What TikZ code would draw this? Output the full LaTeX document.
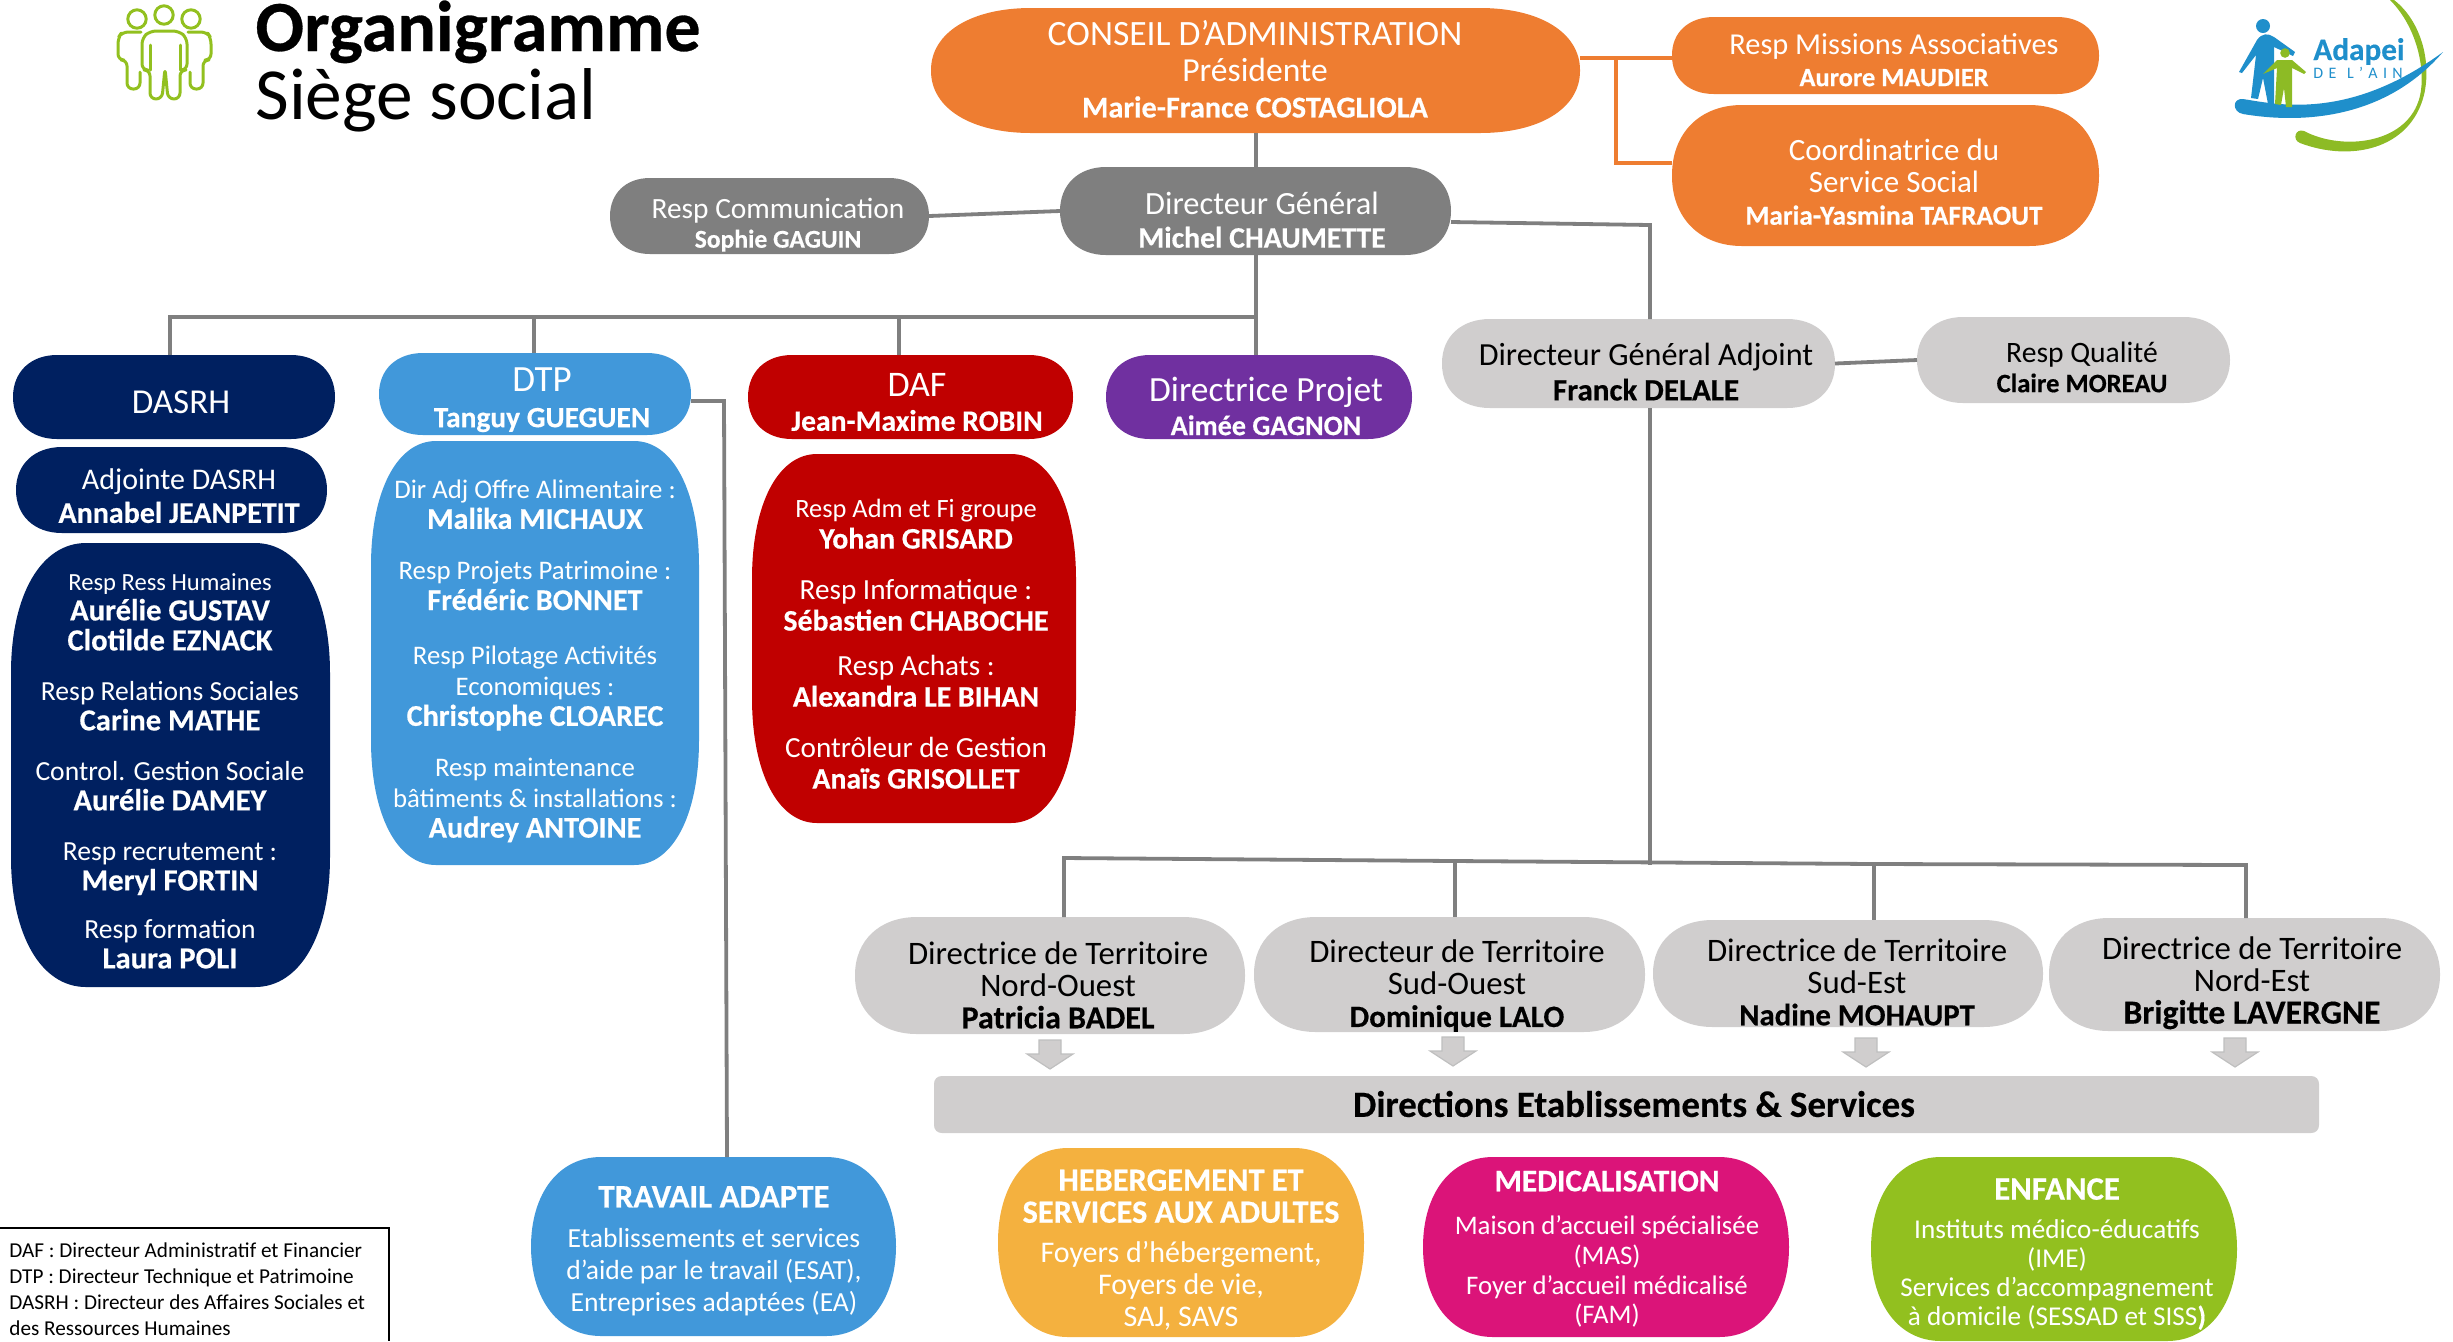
\documentclass[tikz,border=0pt]{standalone}
\usepackage{fontspec}
\setmainfont{Carlito}[BoldFeatures={FakeBold=0.4}]
\definecolor{corange}{HTML}{EE7D31}
\definecolor{cnavy}{HTML}{002060}
\definecolor{cblue}{HTML}{4198DA}
\definecolor{cred}{HTML}{C00000}
\definecolor{cpurple}{HTML}{7030A0}
\definecolor{cgray}{HTML}{7F7F7F}
\definecolor{clight}{HTML}{D0CECE}
\definecolor{cyellow}{HTML}{F4B13F}
\definecolor{cmag}{HTML}{DB1479}
\definecolor{cgreen}{HTML}{92C01F}
\definecolor{clogob}{HTML}{1F8FCB}
\definecolor{clogog}{HTML}{8DBB25}
\tikzset{
  conn/.style={draw=cgray,line width=1.9pt},
  connor/.style={draw=corange,line width=1.7pt},
  anchorbox/.style={rectangle,inner sep=0pt,outer sep=0pt},
  blockarrow/.style={fill=clight,draw=black!25,line width=.6pt},
  icon/.style={draw=cgreen,line width=1.5pt,line join=round,line cap=round},
}
\newcommand{\rbox}[8]{%
  \path[fill=#8] ({#2+#6},#3) -- ({#4-#6},#3)
    .. controls ({#4-0.4*#6},#3) and (#4,{#3+0.4*#7}) .. (#4,{#3+#7})
    -- (#4,{#5-#7})
    .. controls (#4,{#5-0.4*#7}) and ({#4-0.4*#6},#5) .. ({#4-#6},#5)
    -- ({#2+#6},#5)
    .. controls ({#2+0.4*#6},#5) and (#2,{#5-0.4*#7}) .. (#2,{#5-#7})
    -- (#2,{#3+#7})
    .. controls (#2,{#3+0.4*#7}) and ({#2+0.4*#6},#3) .. ({#2+#6},#3) -- cycle;
  \node[anchorbox,minimum width={(#4-#2)*0.5pt},minimum height={(#5-#3)*0.5pt}] (#1) at ({(#2+#4)/2},{(#3+#5)/2}) {};
}
\newcommand{\tx}[7]{%
  \node[inner sep=0pt,align=center,text=#6,font={\fontsize{#4}{#5}\selectfont}] (#1) at (#2,#3) {#7};
}
\newcommand{\nz}[2]{{\fontsize{#1}{\baselineskip}\selectfont\bfseries #2}}
\newcommand{\lz}[2]{{\fontsize{#1}{\baselineskip}\selectfont #2}}
\begin{document}
\begin{tikzpicture}[x=0.5pt,y=-0.5pt]
\useasboundingbox (0,0) rectangle (2453,1341);

% icon
\foreach \cx/\cy in {164/15,137/19,191/19}{\draw[icon] (\cx,\cy) circle (4.6pt);}
\draw[icon,rounded corners=3pt] (150,31) -- (179,31) -- (187,38) -- (187,70) -- (180,70) -- (180,99) -- (168,99) -- (165,68) -- (162,99) -- (150,99) -- (150,70) -- (142,70) -- (142,38) -- cycle;
\draw[icon] (150,45) -- (150,70) (180,45) -- (180,70);
\draw[icon,rounded corners=3pt] (141,32) -- (122,32) -- (118,38) -- (118,60) -- (127,60) -- (127,89) -- (140,89) -- (140,72);
\draw[icon,rounded corners=3pt] (188,32) -- (207,32) -- (211,38) -- (211,60) -- (203,60) -- (203,89) -- (190,89) -- (190,72);

% titles
\node[anchor=base west,inner sep=0pt,font={\fontsize{36}{36}\selectfont\bfseries}] (titre) at (255,51) {Organigramme};
\node[anchor=base west,inner sep=0pt,font={\fontsize{36.7}{36}\selectfont}] (soustitre) at (255,119) {Siège social};

% logo
\fill[clogog] (2390,0) .. controls (2420,30) and (2428,80) .. (2417,105) .. controls (2400,145) and (2340,150) .. (2304,131) .. controls (2295,128) and (2292,140) .. (2300,143) .. controls (2350,162) and (2410,150) .. (2424,95) .. controls (2432,60) and (2420,20) .. (2394,0) -- cycle;
\fill[clogob] (2243,99) .. controls (2280,105) and (2350,120) .. (2443,52) .. controls (2380,125) and (2290,122) .. (2243,114) .. controls (2232,112) and (2232,98) .. (2243,99) -- cycle;
\fill[clogob] (2263,26) circle (3.5pt);
\fill[clogob] (2239,72) -- (2257,40) .. controls (2262,33) and (2268,33) .. (2274,37) -- (2295,52) -- (2293,56) -- (2274,47) -- (2274,104) -- (2268,104) -- (2263,78) -- (2258,99) -- (2251,98) -- (2256,55) -- (2242,73) -- cycle;
\fill[clogog] (2285,53) circle (2.4pt);
\fill[clogog] (2263,74) -- (2277,60) -- (2292,60) -- (2306,72) -- (2304,74) -- (2292,68) -- (2292,107) -- (2286,107) -- (2284,88) -- (2281,105) -- (2275,104) -- (2277,68) -- cycle;
\node[anchor=base west,inner sep=0pt,text=clogob,font={\fontsize{15.6}{16}\selectfont\bfseries}] (adapei) at (2313,60) {Adapei};
\node[anchor=base west,inner sep=0pt,text=clogob,font={\fontsize{8}{8}\selectfont}] (delain) at (2313,78) {D\,\,E\,\,\,\,L\,\,'\,\,A\,\,I\,\,N};

% boxes
\rbox{cadmin}{931}{8}{1580}{133}{100}{62}{corange}
\rbox{missions}{1672}{17}{2099}{94}{42}{38}{corange}
\rbox{coord}{1672}{105}{2099}{246}{70}{70}{corange}
\rbox{dg}{1060}{167}{1451}{255}{46}{44}{cgray}
\rbox{comm}{610}{178}{929}{254}{40}{38}{cgray}
\rbox{dasrh}{13}{355}{335}{439}{44}{42}{cnavy}
\rbox{adj}{16}{447}{327}{533}{46}{43}{cnavy}
\rbox{rh}{11}{543}{330}{987}{75}{130}{cnavy}
\rbox{dtp}{379}{353}{691}{435}{44}{41}{cblue}
\rbox{dtpb}{371}{441}{699}{865}{65}{125}{cblue}
\rbox{daf}{748}{355}{1073}{439}{44}{42}{cred}
\rbox{dafb}{752}{454}{1076}{823}{65}{125}{cred}
\rbox{projet}{1106}{355}{1412}{439}{44}{42}{cpurple}
\rbox{dga}{1442}{319}{1835}{408}{48}{44}{clight}
\rbox{qual}{1917}{317}{2230}{403}{46}{43}{clight}
\rbox{no}{855}{917}{1245}{1034}{62}{58}{clight}
\rbox{so}{1254}{917}{1645}{1032}{62}{57}{clight}
\rbox{se}{1653}{920}{2043}{1027}{60}{53}{clight}
\rbox{ne}{2049}{918}{2440}{1031}{60}{56}{clight}
\rbox{bar}{934}{1076}{2319}{1133}{8}{8}{clight}
\rbox{travail}{531}{1157}{896}{1336}{70}{90}{cblue}
\rbox{heber}{998}{1148}{1364}{1337}{70}{94}{cyellow}
\rbox{medic}{1423}{1157}{1789}{1337}{70}{90}{cmag}
\rbox{enf}{1871}{1157}{2237}{1341}{70}{92}{cgreen}

% connectors
\coordinate (orj) at (1616,58);
\coordinate (orb) at (1616,163);
\draw[connor] (cadmin.east |- orj) -- (missions.west |- orj);
\draw[connor] (orj) -- (orb) -- (coord.west |- orb);
\coordinate (busR) at (1256,317);
\coordinate (busL) at (170,317);
\coordinate (busB) at (534,317);
\coordinate (busC) at (899,317);
\draw[conn] (busR |- cadmin.south) -- (busR |- dg.north);
\draw[conn] (busR |- dg.south) -- (busR) -- (busL) -- (busL |- dasrh.north);
\draw[conn] (busB) -- (busB |- dtp.north);
\draw[conn] (busC) -- (busC |- daf.north);
\draw[conn] (busR) -- (busR |- projet.north);
\draw[conn] (comm.east) -- (dg.west);
\coordinate (dgaj) at (1650,225);
\coordinate (dgae) at (1650,865);
\coordinate (dgbase) at (1440,222);
\draw[conn] (dg.east |- dgbase) -- (dgaj) -- (dgaj |- dga.north);
\draw[conn] (dgaj |- dga.south) -- (dgae);
\draw[conn] (dga.east) -- (qual.west);
\coordinate (t1) at (1064,858);
\coordinate (t2) at (1455,861);
\coordinate (t3) at (1874,864);
\coordinate (t4) at (2246,865);
\draw[conn] (t1 |- no.north) -- (t1) -- (t2) -- (t3) -- (t4) -- (t4 |- ne.north);
\draw[conn] (t2) -- (t2 |- so.north);
\draw[conn] (t3) -- (t3 |- se.north);
\coordinate (dtpj) at (724,401);
\coordinate (dtpk) at (727,1157);
\draw[conn] (dtp.east |- dtpj) -- (dtpj) -- (dtpk);

% block arrows
\foreach \cx/\ty in {1050/1040,1453/1037,1866/1038,2235/1038}{
  \draw[blockarrow] ({\cx-11},\ty) -- ({\cx+11},\ty) -- ({\cx+11},{\ty+14}) -- ({\cx+23},{\ty+14}) -- (\cx,{\ty+29}) -- ({\cx-23},{\ty+14}) -- ({\cx-11},{\ty+14}) -- cycle;
}

% texts
\tx{tcadmin}{1255}{69}{17.8}{18}{white}{CONSEIL D'ADMINISTRATION\\\lz{16.8}{Présidente}\\\nz{15.1}{Marie-France COSTAGLIOLA}}
\tx{tmissions}{1894}{60}{15.2}{15.7}{white}{Resp Missions Associatives\\\nz{13.2}{Aurore MAUDIER}}
\tx{tcoord}{1894}{182}{15.5}{16}{white}{Coordinatrice du\\Service Social\\\nz{13.7}{Maria-Yasmina TAFRAOUT}}
\tx{tdg}{1262}{220}{16.2}{16.5}{white}{Directeur Général\\\nz{14.9}{Michel CHAUMETTE}}
\tx{tcomm}{778}{225}{14.7}{14.5}{white}{Resp Communication\\\nz{12.8}{Sophie GAGUIN}}
\tx{tdasrh}{181}{402}{17.5}{18}{white}{DASRH}
\tx{tadj}{179}{496}{15}{16.5}{white}{Adjointe DASRH\\\nz{15}{Annabel JEANPETIT}}
\tx{trh}{170}{771}{13.8}{15}{white}{\lz{12.3}{Resp Ress Humaines}\\\nz{15.3}{Aurélie GUSTAV}\\\nz{15.3}{Clotilde EZNACK}\\[10pt]Resp Relations Sociales\\\nz{15.3}{Carine MATHE}\\[10pt]Control. Gestion Sociale\\\nz{15.3}{Aurélie DAMEY}\\[10pt]Resp recrutement :\\\nz{15.3}{Meryl FORTIN}\\[9pt]Resp formation\\\nz{15.3}{Laura POLI}}
\tx{tdtp}{542}{400}{18.5}{17.8}{white}{DTP\\\nz{14.7}{Tanguy GUEGUEN}}
\tx{tdtpb}{535}{661}{13.4}{15.3}{white}{Dir Adj Offre Alimentaire :\\\nz{15.1}{Malika MICHAUX}\\[10pt]Resp Projets Patrimoine :\\\nz{15.1}{Frédéric BONNET}\\[12pt]Resp Pilotage Activités\\Economiques :\\\nz{15.1}{Christophe CLOAREC}\\[10pt]Resp maintenance\\bâtiments \& installations :\\\nz{15.1}{Audrey ANTOINE}}
\tx{tdaf}{917}{402}{18}{17.3}{white}{DAF\\\nz{14.8}{Jean-Maxime ROBIN}}
\tx{tdafb}{916}{644}{14.6}{15.5}{white}{\lz{13.2}{Resp Adm et Fi groupe}\\\nz{14.9}{Yohan GRISARD}\\[10pt]Resp Informatique :\\\nz{14.9}{Sébastien CHABOCHE}\\[7pt]Resp Achats :\\\nz{14.9}{Alexandra LE BIHAN}\\[10pt]Contrôleur de Gestion\\\nz{14.9}{Anaïs GRISOLLET}}
\tx{tprojet}{1266}{406}{17.7}{17}{white}{Directrice Projet\\\nz{14.1}{Aimée GAGNON}}
\tx{tdga}{1646}{372}{16.1}{17.3}{black}{Directeur Général Adjoint\\\nz{15.5}{Franck DELALE}}
\tx{tqual}{2082}{367}{14.8}{15}{black}{Resp Qualité\\\nz{13.3}{Claire MOREAU}}
\tx{tno}{1058}{985}{16.4}{16}{black}{Directrice de Territoire\\Nord-Ouest\\\nz{16}{Patricia BADEL}}
\tx{tso}{1457}{986}{16.4}{16}{black}{Directeur de Territoire\\Sud-Ouest\\\nz{15.5}{Dominique LALO}}
\tx{tse}{1857}{982}{16.4}{16}{black}{Directrice de Territoire\\Sud-Est\\\nz{15.4}{Nadine MOHAUPT}}
\tx{tne}{2252}{983}{16.4}{16}{black}{Directrice de Territoire\\Nord-Est\\\nz{16.8}{Brigitte LAVERGNE}}
\tx{tbar}{1634}{1104}{18.5}{18}{black}{\bfseries Directions Etablissements \& Services}
\tx{ttravail}{714}{1251}{13.8}{16}{white}{\nz{16.5}{TRAVAIL ADAPTE}\\[4pt]Etablissements et services\\d'aide par le travail (ESAT),\\Entreprises adaptées (EA)}
\tx{theber}{1181}{1250}{15}{16}{white}{\nz{16.2}{HEBERGEMENT ET}\\\nz{16.2}{SERVICES AUX ADULTES}\\[4pt]Foyers d'hébergement,\\Foyers de vie,\\SAJ, SAVS}
\tx{tmedic}{1607}{1249}{13.4}{14.8}{white}{\nz{15.7}{MEDICALISATION}\\[7pt]Maison d'accueil spécialisée\\(MAS)\\Foyer d'accueil médicalisé\\(FAM)}
\tx{tenf}{2057}{1254}{13.6}{14.5}{white}{\nz{16.4}{ENFANCE}\\[5pt]Instituts médico-éducatifs\\(IME)\\Services d'accompagnement\\à domicile (SESSAD et SISS\textbf{)}}

% legend
\coordinate (legTL) at (0,1228);
\coordinate (legTR) at (389,1228);
\coordinate (legBR) at (389,1341);
\draw[black,line width=.8pt] (legTL) -- (legTR) -- (legBR);
\node[anchor=north west,inner sep=0pt,align=left,font={\fontsize{10.6}{13}\selectfont}] (legende) at (9,1242) {DAF : Directeur Administratif et Financier\\DTP : Directeur Technique et Patrimoine\\DASRH : Directeur des Affaires Sociales et\\des Ressources Humaines};
\end{tikzpicture}
\end{document}
